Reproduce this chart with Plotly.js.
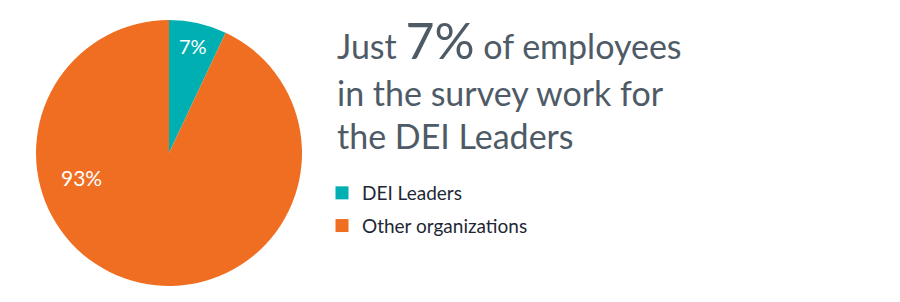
<!DOCTYPE html>
<html>
<head>
<meta charset="utf-8">
<script src="https://cdn.plot.ly/plotly-3.0.1.min.js"></script>
<style>html,body{margin:0;padding:0;background:#fff;}#chart{width:900px;height:302px;}</style>
</head>
<body>
<div id="chart"></div>
<script>
const categories = ["DEI Leaders", "Other organizations"];
const values = [7, 93];
const colors = ["#00AFB1", "#F06E21"];
const headlineLines = ["Just <span style=\"font-size:50px\">7%</span> of employees", "in the survey work for", "the DEI Leaders"];

const FONT = "Lato, 'Open Sans', sans-serif";

const pie = {
  type: "pie",
  labels: categories,
  values: values,
  sort: false,
  direction: "clockwise",
  rotation: 0,
  marker: {colors: colors, line: {width: 0}},
  texttemplate: "%{value}%",
  textposition: ["inside", "none"],
  insidetextorientation: "horizontal",
  textfont: {family: FONT, size: 20, color: "#ffffff"},
  hoverinfo: "label+percent",
  showlegend: false,
  domain: {x: [36/900, 302/900], y: [16/302, 282/302]}
};

const legendTraces = categories.map((c, i) => ({
  type: "scatter",
  mode: "markers",
  x: [null], y: [null],
  name: c,
  legendgroup: "g" + i,
  marker: {symbol: "square", size: 13, color: colors[i]},
  showlegend: true,
  hoverinfo: "skip"
}));

const annotations = headlineLines.map((t, i) => ({
  xref: "paper", yref: "paper",
  x: 335/900, y: 1 - (72 + i*43)/302,
  xanchor: "left", yanchor: "bottom",
  showarrow: false,
  text: t,
  align: "left",
  font: {family: FONT, size: 34, color: "#4E5B67"}
}));

annotations.push({
  xref: "paper", yref: "paper",
  x: 81/900, y: 1 - 177/302,
  xanchor: "center", yanchor: "middle",
  showarrow: false,
  text: values[1] + "%",
  font: {family: FONT, size: 21, color: "#ffffff"}
});

const layout = {
  width: 900, height: 302,
  margin: {l: 0, r: 0, t: 0, b: 0},
  paper_bgcolor: "#ffffff",
  plot_bgcolor: "#ffffff",
  showlegend: true,
  xaxis: {visible: false, domain: [0.99, 1]},
  yaxis: {visible: false, domain: [0.99, 1]},
  legend: {
    x: 322/900, y: 1 - 174/302, xanchor: "left", yanchor: "top",
    font: {family: FONT, size: 19, color: "#1E2733"},
    tracegroupgap: 5,
    traceorder: "grouped",
    bgcolor: "rgba(0,0,0,0)"
  },
  annotations: annotations
};

Plotly.newPlot("chart", [pie].concat(legendTraces), layout, {displayModeBar: false, staticPlot: true});
</script>
</body>
</html>
